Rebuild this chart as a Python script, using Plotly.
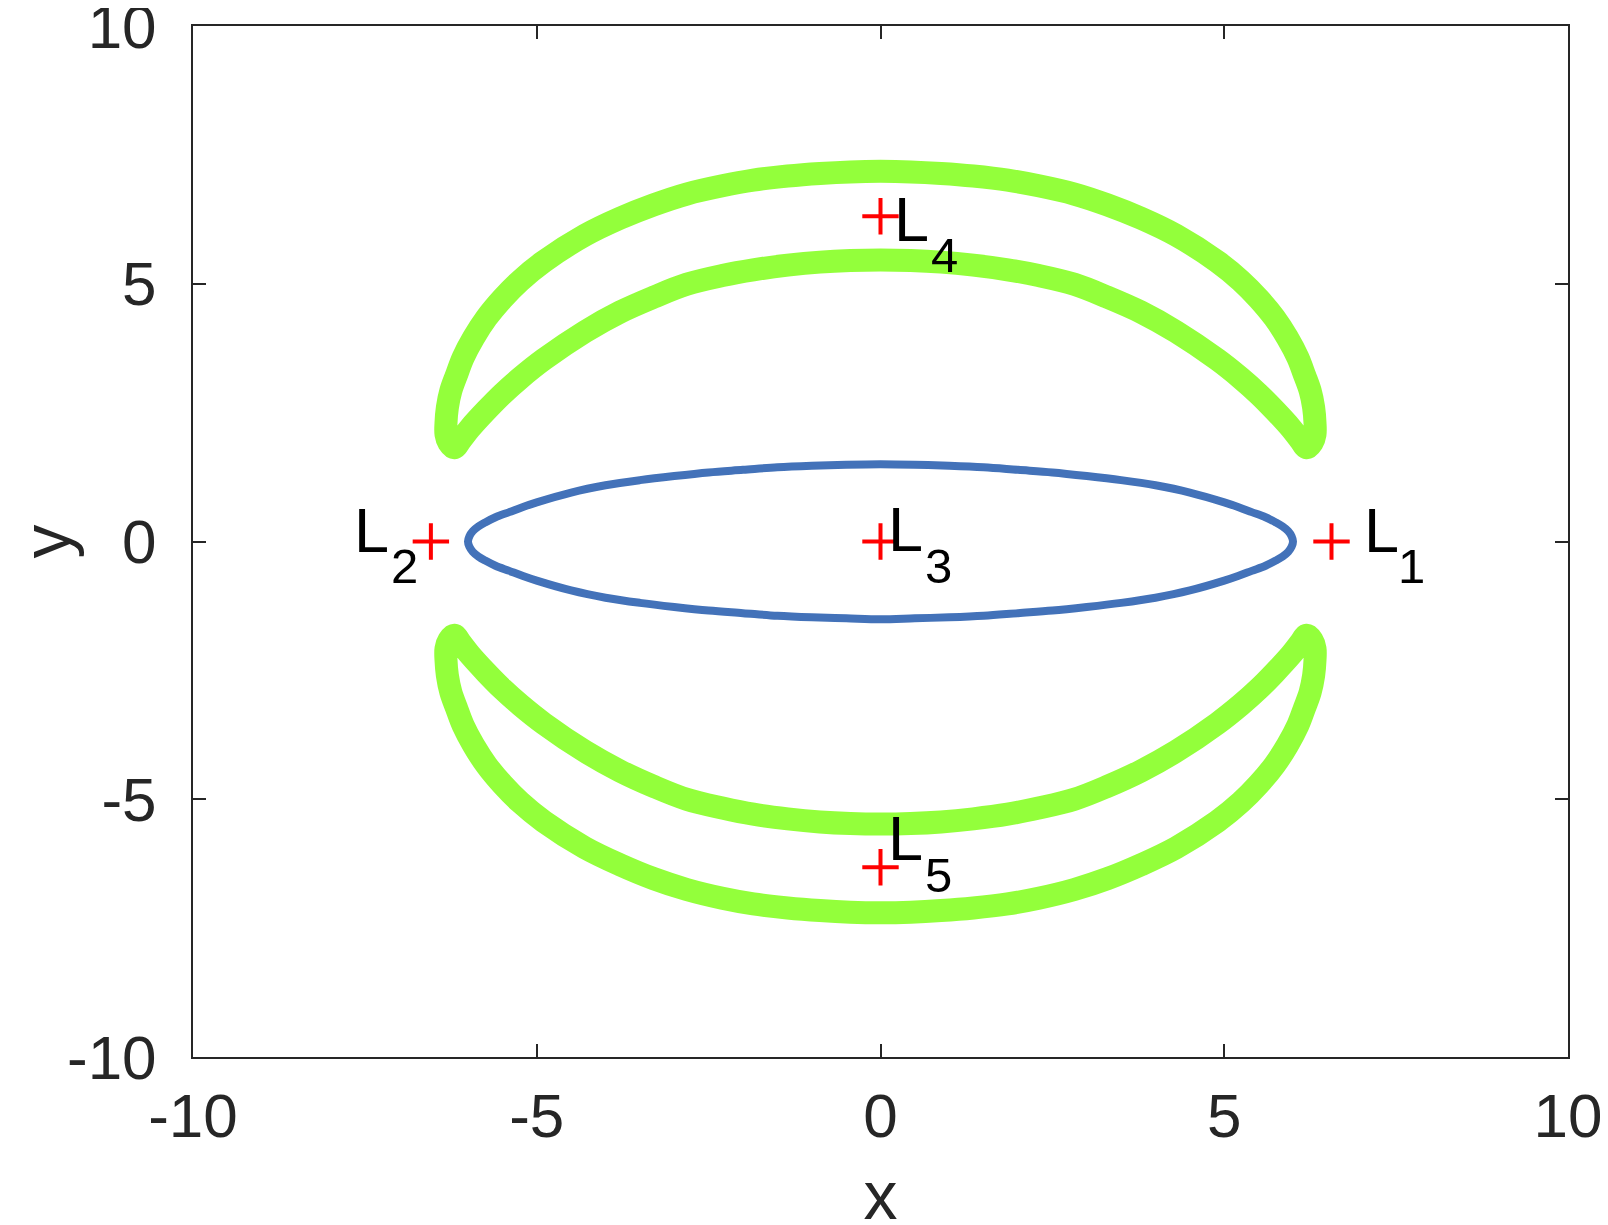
import plotly.graph_objects as go

# ---- data ----
# upper green crescent: closed loop (outer arc left->right, inner arc right->left)
upper_x = [-6.20, -6.28, -6.32, -6.32, -6.30, -6.25, -6.17, -6.07, -5.92, -5.73, -5.50, -5.24,
           -4.90, -4.30, -3.79, -3.30, -2.82, -2.30, -1.85, -1.35, -0.88, -0.44, 0.00,
           0.44, 0.88, 1.35, 1.85, 2.30, 2.82, 3.30, 3.79, 4.30, 4.90, 5.24,
           5.50, 5.73, 5.92, 6.07, 6.17, 6.25, 6.30, 6.32, 6.32, 6.28, 6.20,
           6.10, 5.97, 5.73, 5.50, 5.24, 4.90, 4.30, 3.79, 3.30, 2.82, 2.30,
           1.85, 1.35, 0.88, 0.44, 0.00, -0.44, -0.88, -1.35, -1.85, -2.30, -2.82, -3.30,
           -3.79, -4.30, -4.90, -5.24, -5.50, -5.73, -5.97, -6.10, -6.20]
upper_y = [1.82, 1.92, 2.08, 2.30, 2.60, 2.92, 3.22, 3.57, 3.95, 4.34, 4.71, 5.06,
           5.43, 5.94, 6.27, 6.53, 6.74, 6.90, 7.01, 7.09, 7.14, 7.17, 7.18,
           7.17, 7.14, 7.09, 7.01, 6.90, 6.74, 6.53, 6.27, 5.94, 5.43, 5.06,
           4.71, 4.34, 3.95, 3.57, 3.22, 2.92, 2.60, 2.30, 2.08, 1.92, 1.82,
           1.98, 2.20, 2.55, 2.86, 3.17, 3.53, 4.07, 4.45, 4.74, 4.99, 5.16,
           5.27, 5.36, 5.42, 5.45, 5.46, 5.45, 5.42, 5.36, 5.27, 5.16, 4.99, 4.74,
           4.45, 4.07, 3.53, 3.17, 2.86, 2.55, 2.20, 1.98, 1.82]

# lower green crescent
lower_x = [-6.20, -6.28, -6.32, -6.32, -6.30, -6.25, -6.17, -6.07, -5.92, -5.73, -5.50, -5.24,
           -4.90, -4.30, -3.79, -3.30, -2.82, -2.30, -1.85, -1.35, -0.88, -0.44, 0.00,
           0.44, 0.88, 1.35, 1.85, 2.30, 2.82, 3.30, 3.79, 4.30, 4.90, 5.24,
           5.50, 5.73, 5.92, 6.07, 6.17, 6.25, 6.30, 6.32, 6.32, 6.28, 6.20,
           6.10, 5.97, 5.73, 5.50, 5.24, 4.90, 4.30, 3.79, 3.30, 2.82, 2.30,
           1.85, 1.35, 0.88, 0.44, 0.00, -0.44, -0.88, -1.35, -1.85, -2.30, -2.82, -3.30,
           -3.79, -4.30, -4.90, -5.24, -5.50, -5.73, -5.97, -6.10, -6.20]
lower_y = [-1.82, -1.92, -2.08, -2.30, -2.60, -2.92, -3.22, -3.57, -3.95, -4.34, -4.71, -5.06,
           -5.43, -5.94, -6.27, -6.54, -6.75, -6.92, -7.03, -7.11, -7.16, -7.19, -7.20,
           -7.19, -7.16, -7.11, -7.03, -6.92, -6.75, -6.54, -6.27, -5.94, -5.43, -5.06,
           -4.71, -4.34, -3.95, -3.57, -3.22, -2.92, -2.60, -2.30, -2.08, -1.92, -1.82,
           -1.98, -2.20, -2.55, -2.86, -3.17, -3.53, -4.07, -4.45, -4.75, -5.00, -5.17,
           -5.29, -5.38, -5.44, -5.47, -5.48, -5.47, -5.44, -5.38, -5.29, -5.17, -5.00, -4.75,
           -4.45, -4.07, -3.53, -3.17, -2.86, -2.55, -2.20, -1.98, -1.82]

# blue oval (upper half left->right, lower half right->left)
oval_x = [-6.00, -5.98, -5.93, -5.85, -5.75, -5.60, -5.40, -5.20, -5.00, -4.50, -4.00, -3.50,
          -3.00, -2.50, -2.00, -1.50, -1.00, -0.50, 0.00, 0.50, 1.00, 1.50, 2.00, 2.50,
          3.00, 3.50, 4.00, 4.50, 5.00, 5.20, 5.40, 5.60, 5.75, 5.85, 5.93, 5.98, 6.00,
          5.98, 5.93, 5.85, 5.75, 5.60, 5.40, 5.20, 5.00, 4.50, 4.00, 3.50, 3.00,
          2.50, 2.00, 1.50, 1.00, 0.50, 0.00, -0.50, -1.00, -1.50, -2.00, -2.50, -3.00,
          -3.50, -4.00, -4.50, -5.00, -5.20, -5.40, -5.60, -5.75, -5.85, -5.93, -5.98, -6.00]
oval_y = [0.00, 0.10, 0.20, 0.29, 0.37, 0.47, 0.57, 0.67, 0.76, 0.95, 1.09, 1.19,
          1.27, 1.34, 1.39, 1.44, 1.47, 1.49, 1.50, 1.49, 1.47, 1.44, 1.39, 1.34,
          1.27, 1.19, 1.09, 0.95, 0.76, 0.67, 0.57, 0.47, 0.37, 0.29, 0.20, 0.10, 0.00,
          -0.10, -0.20, -0.29, -0.37, -0.47, -0.57, -0.67, -0.76, -0.95, -1.09, -1.19, -1.27,
          -1.34, -1.39, -1.44, -1.47, -1.49, -1.51, -1.49, -1.47, -1.44, -1.39, -1.34, -1.27,
          -1.19, -1.09, -0.95, -0.76, -0.67, -0.57, -0.47, -0.37, -0.29, -0.20, -0.10, 0.00]

# Lagrange points
lp_x = [6.56, -6.54, 0.0, 0.0, 0.0]
lp_y = [0.0, 0.0, 0.0, 6.31, -6.32]
# label text: letter and subscript, with their centres
lab_main = ["L", "L", "L", "L", "L"]
lab_main_x = [7.28, -7.40, 0.37, 0.45, 0.36]
lab_main_y = [0.23, 0.23, 0.25, 6.25, -5.75]
lab_sub = ["1", "2", "3", "4", "5"]
lab_sub_x = [7.72, -6.93, 0.85, 0.93, 0.84]
lab_sub_y = [-0.47, -0.47, -0.48, 5.55, -6.46]

tick_vals = [-10, -5, 0, 5, 10]
tick_text = ["-10", "-5", "0", "5", "10"]

GREEN = "#93FF3B"
BLUE = "#4372B9"
FONT = "Liberation Sans, Arial, Helvetica, sans-serif"
AX = "#262626"

fig = go.Figure()
for xs, ys in [(upper_x, upper_y), (lower_x, lower_y)]:
    fig.add_trace(go.Scatter(x=xs, y=ys, mode="lines",
                             line=dict(color=GREEN, width=23, shape="spline", smoothing=1.0),
                             hoverinfo="skip", showlegend=False))
fig.add_trace(go.Scatter(x=oval_x, y=oval_y, mode="lines",
                         line=dict(color=BLUE, width=8, shape="spline", smoothing=1.0),
                         hoverinfo="skip", showlegend=False))
fig.add_trace(go.Scatter(x=lp_x, y=lp_y, mode="markers",
                         marker=dict(symbol="cross-thin", size=26, color="red",
                                     line=dict(color="red", width=4)),
                         hoverinfo="skip", showlegend=False))

for t, x, y in zip(lab_main, lab_main_x, lab_main_y):
    fig.add_annotation(x=x, y=y, text=t, showarrow=False, xanchor="center", yanchor="middle",
                       font=dict(family=FONT, size=63, color="black"))
for t, x, y in zip(lab_sub, lab_sub_x, lab_sub_y):
    fig.add_annotation(x=x, y=y, text=t, showarrow=False, xanchor="center", yanchor="middle",
                       font=dict(family=FONT, size=49, color="black"))

axis_common = dict(range=[-10, 10], tickvals=tick_vals, ticktext=tick_text,
                   ticks="inside", ticklen=13, tickwidth=2, tickcolor=AX,
                   showline=True, linecolor=AX, linewidth=2, mirror="ticks",
                   showgrid=False, zeroline=False, automargin=False,
                   ticklabeloverflow="allow",
                   tickfont=dict(family=FONT, size=62, color=AX))

fig.update_xaxes(**axis_common, ticklabelstandoff=4,
                 title=dict(text="x", font=dict(family=FONT, size=68, color=AX), standoff=25))
fig.update_yaxes(**axis_common, ticklabelstandoff=22,
                 title=dict(text="y", font=dict(family=FONT, size=68, color=AX), standoff=52))

# the page body adds an 8 px offset, margins compensate for it
fig.update_layout(width=1608, height=1225, margin=dict(l=185, r=48, t=18, b=176),
                  plot_bgcolor="white", paper_bgcolor="white")

fig.write_html("out.html")
